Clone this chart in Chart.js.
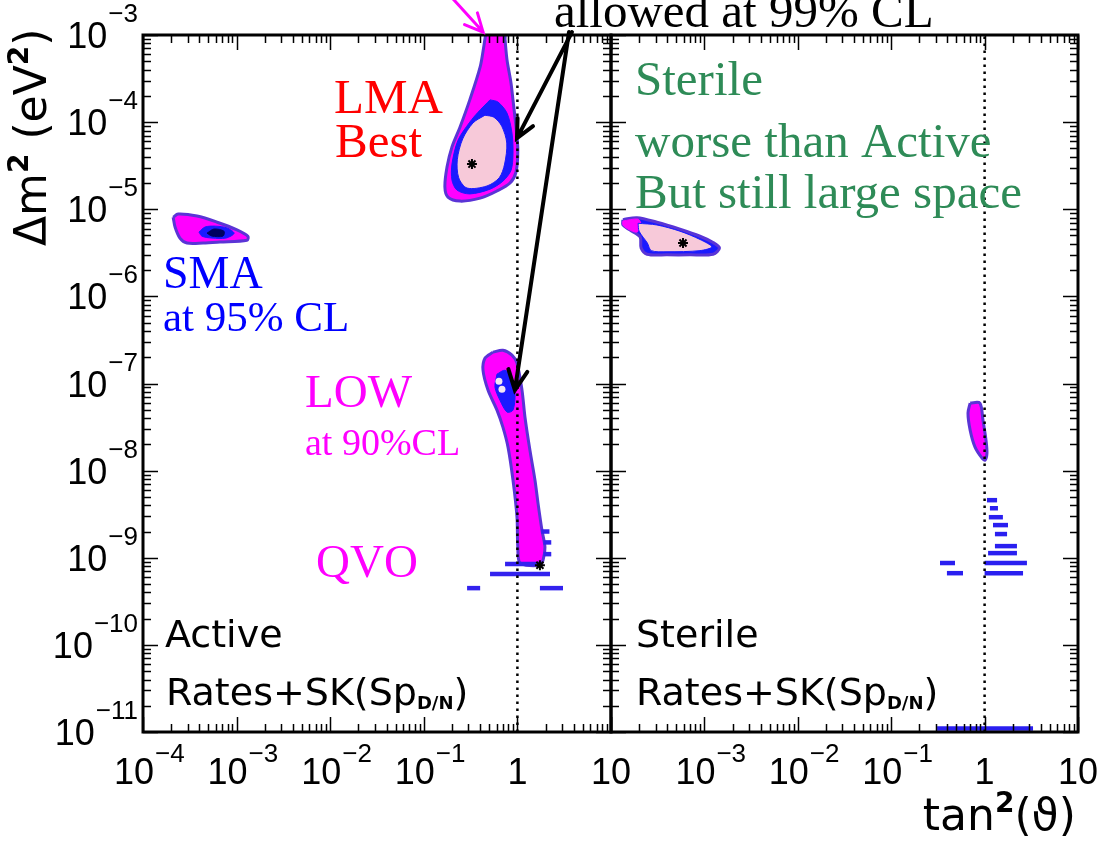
<!DOCTYPE html>
<html>
<head>
<meta charset="utf-8">
<title>Solar neutrino fits: active vs sterile</title>
<script src="https://cdn.jsdelivr.net/npm/chart.js@4.4.0/dist/chart.umd.min.js"></script>
<style>
  html, body { margin: 0; padding: 0; background: #fff; }
  #wrap { position: relative; width: 1099px; height: 845px; overflow: hidden; }
  canvas { position: absolute; left: 0; top: 0; }
</style>
</head>
<body>
<div id="wrap">
  <canvas id="activeChart" width="1099" height="845"></canvas>
  <canvas id="sterileChart" width="1099" height="845"></canvas>
</div>
<script>
// axis ranges (decades)
const xMinExp = -4, xMaxExp = 1;
const yMinExp = -11, yMaxExp = -3;
const yTickExps = [-3, -4, -5, -6, -7, -8, -9, -10, -11];
const xTickExpsActive = [-4, -3, -2, -1, 0, 1];
const xTickExpsSterile = [-3, -2, -1, 0, 1];

// ---- active panel: [tan^2, dm^2] contour outlines ----
const lmaOuter = [[0.46,1.05e-3],[0.44,7.7e-4],[0.40,4.3e-4],[0.31,1.8e-4],[0.244,8.8e-5],[0.20,5.2e-5],[0.177,3.05e-5],[0.168,1.8e-5],[0.181,1.38e-5],[0.244,1.24e-5],[0.40,1.34e-5],[0.605,1.62e-5],[0.834,2.0e-5],[0.966,2.67e-5],[1.01,4.8e-5],[0.966,8.8e-5],[0.897,1.8e-4],[0.855,2.8e-4],[0.774,5.2e-4],[0.738,8.8e-4],[0.726,1.05e-3]];
const lmaBlue = [[0.51,1.8e-4],[0.38,1.3e-4],[0.31,1.0e-4],[0.232,6.2e-5],[0.20,3.3e-5],[0.20,2.16e-5],[0.226,1.66e-5],[0.31,1.5e-5],[0.51,1.7e-5],[0.70,2.1e-5],[0.855,2.8e-5],[0.897,4.3e-5],[0.875,7.5e-5],[0.774,1.27e-4],[0.62,1.7e-4]];
const lmaPink = [[0.45,1.2e-4],[0.336,9.8e-5],[0.26,6.4e-5],[0.228,3.7e-5],[0.236,2.3e-5],[0.29,1.75e-5],[0.473,1.85e-5],[0.64,2.3e-5],[0.73,3.3e-5],[0.77,5.75e-5],[0.68,9.0e-5],[0.56,1.14e-4]];

const smaOuter = [[2.1e-4,8.1e-6],[2.37e-4,8.8e-6],[3.78e-4,8.35e-6],[6.2e-4,7.1e-6],[1.01e-3,5.8e-6],[1.32e-3,4.9e-6],[1.29e-3,4.4e-6],[6.65e-4,4.2e-6],[4.38e-4,4.1e-6],[2.95e-4,4.1e-6],[2.48e-4,4.67e-6],[2.2e-4,6.25e-6]];
const smaBlue = [[3.96e-4,5.47e-6],[4.6e-4,6.25e-6],[5.9e-4,6.4e-6],[7.9e-4,6.1e-6],[9.4e-4,5.3e-6],[7.7e-4,4.67e-6],[5.46e-4,4.67e-6],[4.27e-4,4.9e-6]];
const smaCore = [[4.83e-4,5.32e-6],[5.74e-4,5.93e-6],[7.33e-4,5.6e-6],[7.16e-4,4.92e-6],[5.46e-4,4.92e-6]];

const lowOuter = [[0.548,2.29e-7],[0.70,2.41e-7],[0.875,2.12e-7],[0.99,1.71e-7],[1.12,8.4e-8],[1.205,4.1e-8],[1.36,1.72e-8],[1.54,7.8e-9],[1.66,4.24e-9],[1.83,2.07e-9],[1.97,1.32e-9],[1.88,9.4e-10],[1.74,8.2e-10],[1.07,8.7e-10],[1.01,1.32e-9],[0.99,2.92e-9],[0.897,7.8e-9],[0.794,1.86e-8],[0.70,3.16e-8],[0.605,4.95e-8],[0.485,8.4e-8],[0.429,1.42e-7],[0.45,1.95e-7]];
const lowBlue = [[0.605,1.28e-7],[0.738,1.42e-7],[0.855,1.18e-7],[0.942,7.76e-8],[0.897,4.95e-8],[0.774,4.7e-8],[0.65,6.45e-8],[0.576,9.1e-8]];
const lowSpots = [[0.635,1.06e-7],[0.684,8.6e-8]];

// [dm^2, tan^2 from, tan^2 to]
const activeStreaks = [[8.45e-10,0.738,1.83],[6.5e-10,0.51,2.23],[4.48e-10,0.29,0.40],[4.48e-10,1.74,3.07],[2.0e-9,1.8,2.2],[1.5e-9,1.9,2.3],[1.1e-9,1.9,2.3]];
const activeBest = [[0.327,3.3e-5],[1.74,8.2e-10]];

// ---- sterile panel ----
const sterSmaOuter = [[1.34e-4,7.6e-6],[1.9e-4,8.0e-6],[3.1e-4,7.1e-6],[5.48e-4,5.9e-6],[8.97e-4,4.9e-6],[1.24e-3,4.15e-6],[1.45e-3,3.59e-6],[1.24e-3,3.05e-6],[7.0e-4,3.0e-6],[3.98e-4,3.0e-6],[2.43e-4,3.05e-6],[2.1e-4,3.6e-6],[2.05e-4,4.8e-6],[1.6e-4,5.77e-6],[1.34e-4,6.6e-6]];
const sterSmaTip = [[1.34e-4,7.33e-6],[1.95e-4,7.7e-6],[2.1e-4,6.6e-6],[1.9e-4,5.47e-6],[1.52e-4,5.93e-6],[1.34e-4,6.6e-6]];
const sterSmaPink = [[1.95e-4,6.9e-6],[3.1e-4,6.6e-6],[5.48e-4,5.6e-6],[8.97e-4,4.5e-6],[1.2e-3,3.7e-6],[8.97e-4,3.35e-6],[3.98e-4,3.25e-6],[2.7e-4,3.35e-6],[2.45e-4,4.1e-6],[2.0e-4,5.6e-6]];
const sterLow = [[0.70,5.96e-8],[0.89,5.96e-8],[0.96,3.8e-8],[1.035,2.24e-8],[1.06,1.59e-8],[1.01,1.32e-8],[0.94,1.39e-8],[0.79,1.86e-8],[0.70,2.92e-8],[0.664,4.58e-8]];
const sterileStreaks = [[4.58e-9,1.06,1.36],[3.7e-9,1.14,1.39],[2.92e-9,1.11,1.57],[2.37e-9,1.23,1.78],[1.87e-9,1.29,1.74],[1.36e-9,1.29,2.22],[1.13e-9,1.09,2.22],[8.7e-10,1.0,2.84],[8.7e-10,0.333,0.482],[6.65e-10,0.395,0.587],[6.65e-10,1.0,2.58],[1.1e-11,0.31,3.3]];
const sterileBest = [[5.9e-4,4.1e-6]];

const MAGENTA = '#ff00ff';
const BLUE = '#1a1aff';
const PINK = '#f7c9d9';
const EDGE = '#5a34d6';

const toXY = pts => pts.map(p => ({ x: p[0], y: p[1] }));
const closed = pts => toXY(pts.concat([pts[0]]));

function region(pts, color, edge, width, order) {
  return {
    data: closed(pts), showLine: true, fill: 'shape', tension: 0.3,
    backgroundColor: color, borderColor: edge || color, borderWidth: width || 0,
    pointRadius: 0, order: order
  };
}
function streaks(list, color) {
  return list.map(s => ({
    data: toXY([[s[1], s[0]], [s[2], s[0]]]), showLine: true, fill: false,
    borderColor: color, borderWidth: 4.5, borderCapStyle: 'butt', pointRadius: 0, order: 2
  }));
}
function stars(pts) {
  return { data: toXY(pts), showLine: false, pointStyle: 'star', pointRadius: 5,
    borderColor: '#000', backgroundColor: '#000', borderWidth: 2, order: 0 };
}
const unitLine = {
  data: toXY([[1, 1e-11], [1, 1e-3]]), showLine: true, fill: false,
  borderColor: '#000', borderWidth: 2.5, borderDash: [2.5, 4.5], pointRadius: 0, order: 1
};

// ---- drawing helpers ----
const TICK_FONT = '36px "Liberation Sans", Arial, sans-serif';
const SUP_FONT = '26px "Liberation Sans", Arial, sans-serif';
const SANS = '"DejaVu Sans", "Liberation Sans", sans-serif';
const SERIF = '"Liberation Serif", "Times New Roman", serif';

function powLabel(ctx, exp, x, baseY, supY, anchor) {
  const base = exp === 0 ? '1' : '10';
  const sup = (exp === 0 || exp === 1) ? '' : '\u2212' + Math.abs(exp);
  ctx.font = TICK_FONT;
  const wb = ctx.measureText(base).width;
  ctx.font = SUP_FONT;
  const ws = sup ? ctx.measureText(sup).width + 1 : 0;
  let x0;
  if (anchor === 'right') x0 = x - wb - ws;
  else x0 = sup ? x - 9 - wb / 2 : x - wb / 2;
  ctx.font = TICK_FONT;
  ctx.fillText(base, x0, baseY);
  if (sup) {
    ctx.font = SUP_FONT;
    ctx.fillText(sup, x0 + wb + 1, supY);
  }
}

function arrow(ctx, x1, y1, x2, y2, color, lw, head) {
  const ang = Math.atan2(y2 - y1, x2 - x1);
  ctx.strokeStyle = color;
  ctx.lineWidth = lw;
  ctx.lineCap = 'round';
  ctx.beginPath();
  ctx.moveTo(x1, y1); ctx.lineTo(x2, y2);
  ctx.moveTo(x2 - head * Math.cos(ang - 0.45), y2 - head * Math.sin(ang - 0.45));
  ctx.lineTo(x2, y2);
  ctx.lineTo(x2 - head * Math.cos(ang + 0.45), y2 - head * Math.sin(ang + 0.45));
  ctx.stroke();
}

// pieces of text: [string, font, dy]
function richText(ctx, parts, x, y) {
  let cx = x;
  parts.forEach(p => {
    ctx.font = p[1];
    ctx.fillText(p[0], cx, y + (p[2] || 0));
    cx += ctx.measureText(p[0]).width;
  });
  return cx - x;
}
function richWidth(ctx, parts) {
  let w = 0;
  parts.forEach(p => { ctx.font = p[1]; w += ctx.measureText(p[0]).width; });
  return w;
}

function ratesLabel(ctx, x, y) {
  ctx.fillStyle = '#000';
  richText(ctx, [
    ['Rates+SK(Sp', '38px ' + SANS],
    ['D/N', 'bold 18px ' + SANS, 4],
    [')', '38px ' + SANS]
  ], x, y);
}

const panelDecor = {
  id: 'panelDecor',
  afterDatasetsDraw(chart, args, opts) {
    const ctx = chart.ctx, a = chart.chartArea;
    const xs = chart.scales.x, ys = chart.scales.y;
    ctx.save();
    ctx.strokeStyle = '#000';
    ctx.fillStyle = '#000';
    ctx.lineWidth = 1.5;
    ctx.beginPath();
    for (let e = xMinExp; e <= xMaxExp; e++) {
      for (let k = 1; k <= 9; k++) {
        if (e === xMaxExp && k > 1) break;
        const px = Math.round(xs.getPixelForValue(k * Math.pow(10, e))) + 0.5;
        const len = k === 1 ? 15 : 8;
        ctx.moveTo(px, a.bottom); ctx.lineTo(px, a.bottom - len);
        ctx.moveTo(px, a.top); ctx.lineTo(px, a.top + len);
      }
    }
    for (let e = yMinExp; e <= yMaxExp; e++) {
      for (let k = 1; k <= 9; k++) {
        if (e === yMaxExp && k > 1) break;
        const py = Math.round(ys.getPixelForValue(k * Math.pow(10, e))) + 0.5;
        const len = k === 1 ? 15 : 8;
        ctx.moveTo(a.left, py); ctx.lineTo(a.left + len, py);
        ctx.moveTo(a.right, py); ctx.lineTo(a.right - len, py);
      }
    }
    ctx.stroke();
    ctx.lineWidth = 3;
    ctx.strokeRect(a.left, a.top, a.right - a.left, a.bottom - a.top);

    ctx.textAlign = 'left';
    ctx.textBaseline = 'alphabetic';
    opts.xTicks.forEach(e => {
      powLabel(ctx, e, xs.getPixelForValue(Math.pow(10, e)), 784, 762, 'center');
    });
    if (opts.yLabels) {
      yTickExps.forEach(e => {
        const py = ys.getPixelForValue(Math.pow(10, e));
        powLabel(ctx, e, 138, py + 13, py - 13, 'right');
      });
    }
    if (opts.notes) opts.notes(ctx, xs, ys);
    ctx.restore();
  }
};

function activeNotes(ctx, xs, ys) {
  const P = (x, y) => [xs.getPixelForValue(x), ys.getPixelForValue(y)];
  ctx.fillStyle = '#ff0000';
  ctx.font = '49px ' + SERIF;
  ctx.fillText('LMA', 334, 113);
  ctx.fillText('Best', 335, 157);
  ctx.fillStyle = '#0000ff';
  ctx.font = '46px ' + SERIF;
  ctx.fillText('SMA', 163, 288);
  ctx.font = '43px ' + SERIF;
  ctx.fillText('at 95% CL', 163, 331);
  ctx.fillStyle = MAGENTA;
  ctx.font = '47px ' + SERIF;
  ctx.fillText('LOW', 305, 407);
  ctx.fillText('QVO', 316, 577);
  ctx.font = '38px ' + SERIF;
  ctx.fillText('at 90%CL', 305, 455);

  ctx.fillStyle = '#000';
  ctx.font = '49px ' + SERIF;
  ctx.fillText('allowed at 99% CL', 554, 27);

  // arrows toward the allowed regions
  const tail = P(3.83, 1.08e-3);
  const t1 = P(0.99, 6.56e-5);
  const t2 = P(0.94, 8.4e-8);
  arrow(ctx, tail[0], tail[1], t1[0], t1[1], '#000', 4, 20);
  arrow(ctx, tail[0] - 3, tail[1], t2[0], t2[1], '#000', 4, 22);
  const m0 = P(0.168, 3.29e-3), m1 = P(0.43, 1.08e-3);
  arrow(ctx, m0[0], m0[1], m1[0], m1[1], MAGENTA, 3, 20);

  ctx.fillStyle = '#000';
  ctx.font = '38px ' + SANS;
  ctx.fillText('Active', 165, 647);
  ratesLabel(ctx, 166, 705);

  // y axis title, rotated
  ctx.save();
  const ytitle = [
    ['\u0394m', '44px ' + SANS], ['2', 'bold 28px ' + SANS, -18],
    [' (eV', '44px ' + SANS], ['2', 'bold 28px ' + SANS, -18], [')', '44px ' + SANS]
  ];
  ctx.translate(46, 246);
  ctx.rotate(-Math.PI / 2);
  ctx.fillStyle = '#000';
  richText(ctx, ytitle, 0, 0);
  ctx.restore();
}

function sterileNotes(ctx) {
  ctx.fillStyle = '#2e8b57';
  ctx.font = '49px ' + SERIF;
  ctx.fillText('Sterile', 635, 95);
  ctx.fillText('worse than Active', 635, 157);
  ctx.fillText('But still large space', 635, 208);

  ctx.fillStyle = '#000';
  ctx.font = '38px ' + SANS;
  ctx.fillText('Sterile', 636, 647);
  ratesLabel(ctx, 636, 705);

  const xtitle = [['tan', '44px ' + SANS], ['2', 'bold 28px ' + SANS, -18], ['(\u03D1)', '44px ' + SANS]];
  const w = richWidth(ctx, xtitle);
  richText(ctx, xtitle, 1076 - w, 830);
}

function makeChart(id, datasets, padding, decor) {
  return new Chart(document.getElementById(id), {
    type: 'scatter',
    data: { datasets: datasets },
    options: {
      responsive: false,
      animation: false,
      events: [],
      layout: { padding: padding },
      plugins: { legend: { display: false }, tooltip: { enabled: false }, panelDecor: decor },
      scales: {
        x: { type: 'logarithmic', min: Math.pow(10, xMinExp), max: Math.pow(10, xMaxExp), display: false },
        y: { type: 'logarithmic', min: Math.pow(10, yMinExp), max: Math.pow(10, yMaxExp), display: false }
      }
    },
    plugins: [panelDecor]
  });
}

const activeSets = [
  stars(activeBest),
  unitLine,
  { data: toXY(lowSpots), showLine: false, pointRadius: 3.5, pointStyle: 'circle',
    backgroundColor: '#f4e6f4', borderColor: '#f4e6f4', borderWidth: 0, order: 3 },
  ...streaks(activeStreaks, '#3322ee'),
  region(lmaPink, PINK, BLUE, 1, 3),
  region(lmaBlue, BLUE, BLUE, 1, 4),
  region(lmaOuter, MAGENTA, EDGE, 3, 5),
  region(smaCore, '#000060', '#000060', 1, 3),
  region(smaBlue, BLUE, BLUE, 1, 4),
  region(smaOuter, MAGENTA, EDGE, 3, 5),
  region(lowBlue, BLUE, BLUE, 1, 4),
  region(lowOuter, MAGENTA, EDGE, 3, 5)
];

const sterileSets = [
  stars(sterileBest),
  { ...unitLine },
  ...streaks(sterileStreaks, '#2a1ff0'),
  region(sterSmaPink, PINK, BLUE, 1, 3),
  region(sterSmaTip, MAGENTA, MAGENTA, 1, 4),
  region(sterSmaOuter, BLUE, EDGE, 3, 5),
  region(sterLow, MAGENTA, EDGE, 3, 5)
];

makeChart('activeChart', activeSets, { left: 143, top: 35, right: 488, bottom: 113 },
  { xTicks: xTickExpsActive, yLabels: true, notes: activeNotes });
makeChart('sterileChart', sterileSets, { left: 611, top: 35, right: 21, bottom: 113 },
  { xTicks: xTickExpsSterile, yLabels: false, notes: sterileNotes });
</script>
</body>
</html>
